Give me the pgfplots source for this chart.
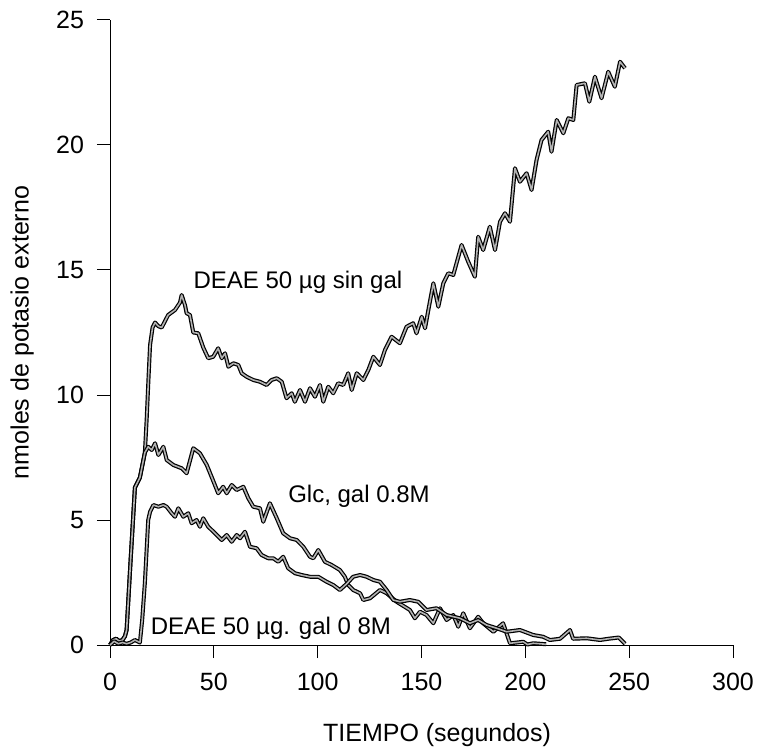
\documentclass[border=0pt]{standalone}
\usepackage{pgfplots}
\pgfplotsset{compat=1.18}
\usepackage{fontspec}
\setmainfont{Liberation Sans}
\usetikzlibrary{calc}
\tikzset{trace/.style={line width=0.6pt, black, double=gray!60, double distance=0.8pt, line join=round, mark=none}}
\begin{document}
\begin{tikzpicture}
\begin{axis}[
  scale only axis,
  width=311.5pt, height=312.5pt,
  xmin=0, xmax=300, ymin=0, ymax=25,
  axis lines=left,
  axis line style={-, line width=0.5pt, black},
  xtick={0,50,...,300}, ytick={0,5,...,25},
  tick align=outside,
  major tick length=6.5pt,
  tick style={line width=0.5pt, black},
  minor tick num=0,
  /pgf/number format/assume math mode=true,
  ticklabel style={font=\fontsize{12.5}{14}\selectfont},
  xticklabel style={yshift=-4pt},
  yticklabel style={xshift=-3pt},
  xlabel={TIEMPO (segundos)},
  ylabel={nmoles de potasio externo},
  xlabel style={at={(axis description cs:0.525,-0.144)}, anchor=center, font=\fontsize{12.5}{14}\selectfont},
  ylabel style={at={(axis description cs:-0.141,0.5)}, anchor=center, rotate=0, font=\fontsize{12.5}{14}\selectfont},
  clip=false,
]
% DEAE 50 ug sin gal
\addplot[trace] coordinates {(0,0)(1.5,0.2)(3,0.25)(4.5,0.15)(6,0.2)(7.2,0.35)(8,0.6)(10,3.5)(12,6.3)(14.4,6.7)(16.8,7.7)(17.7,9.1)(18.5,10.6)(19.3,12.0)(20.5,12.7)(21.7,12.9)(23.3,12.75)(24.9,12.7)(28,13.2)(31.3,13.4)(33.7,13.7)(34.5,14.0)(36.1,13.6)(36.9,13.27)(38.5,13.2)(40.1,12.5)(42.5,12.47)(44.9,11.9)(47.3,11.47)(49.7,11.53)(52.1,11.87)(53.8,11.47)(55.4,11.67)(57,11.13)(59.4,11.27)(61.8,11.2)(63.4,10.87)(65.8,10.73)(69,10.6)(72.2,10.53)(75.4,10.4)(77.8,10.6)(80.3,10.67)(82.7,10.53)(85,9.87)(87.5,10.07)(89,9.73)(91.5,10.2)(93.9,9.73)(96.3,10.27)(98.7,9.93)(101.1,10.4)(102.7,9.73)(105.1,10.33)(107.5,10.07)(109.9,10.47)(112.3,10.4)(114.7,10.87)(116.4,10.2)(118.8,10.87)(122,10.6)(124.4,11.0)(126.8,11.53)(130,11.2)(132.4,11.8)(135.6,12.33)(139.6,12.07)(142.8,12.73)(146,12.87)(147.6,12.47)(150.1,13.13)(151.7,12.67)(153.3,13.4)(155.7,14.47)(158.1,13.53)(160.5,14.47)(162.9,14.87)(165.3,14.8)(169.3,16.0)(172.5,15.33)(175.7,14.73)(177.3,16.33)(179.7,15.8)(182.9,16.73)(185.4,15.8)(187.8,16.93)(190.2,17.27)(192.6,16.93)(195,19.07)(197.4,18.53)(200.6,18.87)(203,18.2)(205.4,19.4)(207.8,20.2)(211,20.53)(212.6,19.73)(215.1,21.0)(218.3,20.47)(220.7,21.07)(223.1,21.0)(224.7,22.4)(228.7,22.47)(230.8,21.73)(233.5,22.73)(236.7,21.87)(239.9,22.93)(243.1,22.33)(245.6,23.33)(248,23.07)};
% Glc, gal 0.8M
\addplot[trace] coordinates {(0,0)(1.5,0.2)(3,0.25)(4.5,0.15)(6,0.2)(7.2,0.35)(8,0.6)(10,3.5)(12,6.3)(14.4,6.7)(16.8,7.7)(18.4,7.93)(20.1,7.8)(21.7,8.07)(23.3,7.6)(25.7,7.93)(27.3,7.4)(30.5,7.2)(34.5,7.07)(36.9,6.87)(40.1,7.87)(43.3,7.67)(46.6,7.2)(48.9,6.73)(52.1,6.07)(54.5,6.33)(56.2,6.07)(58.6,6.4)(61,6.2)(64.2,6.33)(66.6,5.87)(69,5.53)(72.2,5.47)(73.8,4.93)(77,5.67)(80.3,5.07)(83.4,4.47)(86.7,4.27)(89.9,4.2)(93.1,3.93)(96.3,3.53)(97.9,3.47)(100.3,3.8)(103.5,3.33)(106.7,3.2)(110.7,3.0)(113.1,2.73)(114.7,2.4)(117.1,2.2)(120.4,2.07)(122,1.8)(125.2,1.87)(130,2.2)(133.2,2.07)(138,1.73)(144.4,1.4)(146.8,1.07)(149.3,1.33)(152.4,1.2)(155.7,0.87)(158.9,1.47)(162.1,1.0)(165.3,1.2)(167.7,0.73)(170.1,1.27)(173.3,0.67)(177.3,1.13)(179.7,0.87)(184.6,0.53)(189.3,0.87)(192.6,0.07)(196,0.1)(199,0.13)(201,0.02)(203.8,0.07)(207,0.05)(210,0.03)};
% DEAE 50 ug, gal 0.8M
\addplot[trace] coordinates {(0,0)(2,0.15)(4,0.05)(6,0.1)(8,0.05)(10,0.1)(12,0.2)(14.4,0.1)(15.5,1.0)(16.8,2.5)(18.4,5.0)(19.3,5.33)(20.9,5.6)(23.3,5.53)(25.7,5.6)(27.3,5.53)(29.7,5.27)(31.3,5.13)(32.9,5.47)(35.3,5.13)(37.7,5.27)(39.3,4.87)(41.7,5.0)(43.3,4.73)(44.9,5.07)(47.3,4.73)(50.6,4.47)(53.8,4.2)(56.2,4.4)(58.6,4.13)(61,4.4)(62.6,4.27)(65,4.53)(67.4,3.93)(70.6,3.87)(73,3.6)(76.2,3.47)(78.6,3.47)(81,3.33)(83.4,3.53)(85.8,3.07)(89.1,2.87)(92.3,2.8)(96.3,2.73)(100.3,2.73)(104.3,2.53)(107.5,2.4)(110.7,2.2)(114,2.45)(117.1,2.73)(120.4,2.8)(123.6,2.73)(126.8,2.6)(130,2.53)(133.2,2.2)(136.4,1.8)(139.6,1.73)(144.4,1.8)(148.4,1.73)(152.4,1.4)(157.2,1.47)(162.1,1.2)(168.5,1.07)(173.3,0.87)(177.3,1.0)(181.3,0.8)(186.2,0.67)(191,0.53)(197.4,0.6)(203.8,0.4)(208.6,0.33)(211.8,0.2)(216.7,0.25)(221.5,0.6)(223,0.25)(229.5,0.27)(236,0.2)(240,0.25)(245,0.3)(248,0.05)};
\node[font=\fontsize{12}{14}\selectfont] at (axis cs:90.5,14.5) {DEAE 50 µg sin gal};
\node[font=\fontsize{12}{14}\selectfont] at (axis cs:119.9,5.96) {Glc, gal 0.8M};
\node[font=\fontsize{12}{14}\selectfont] at (axis cs:77.5,0.68) {DEAE 50 µg. gal 0 8M};
\end{axis}
\pgfresetboundingbox
\path[use as bounding box] ($(current axis.south west)+(-55pt,-55pt)$) rectangle ($(current axis.north east)+(12.5pt,10pt)$);
\end{tikzpicture}
\end{document}
